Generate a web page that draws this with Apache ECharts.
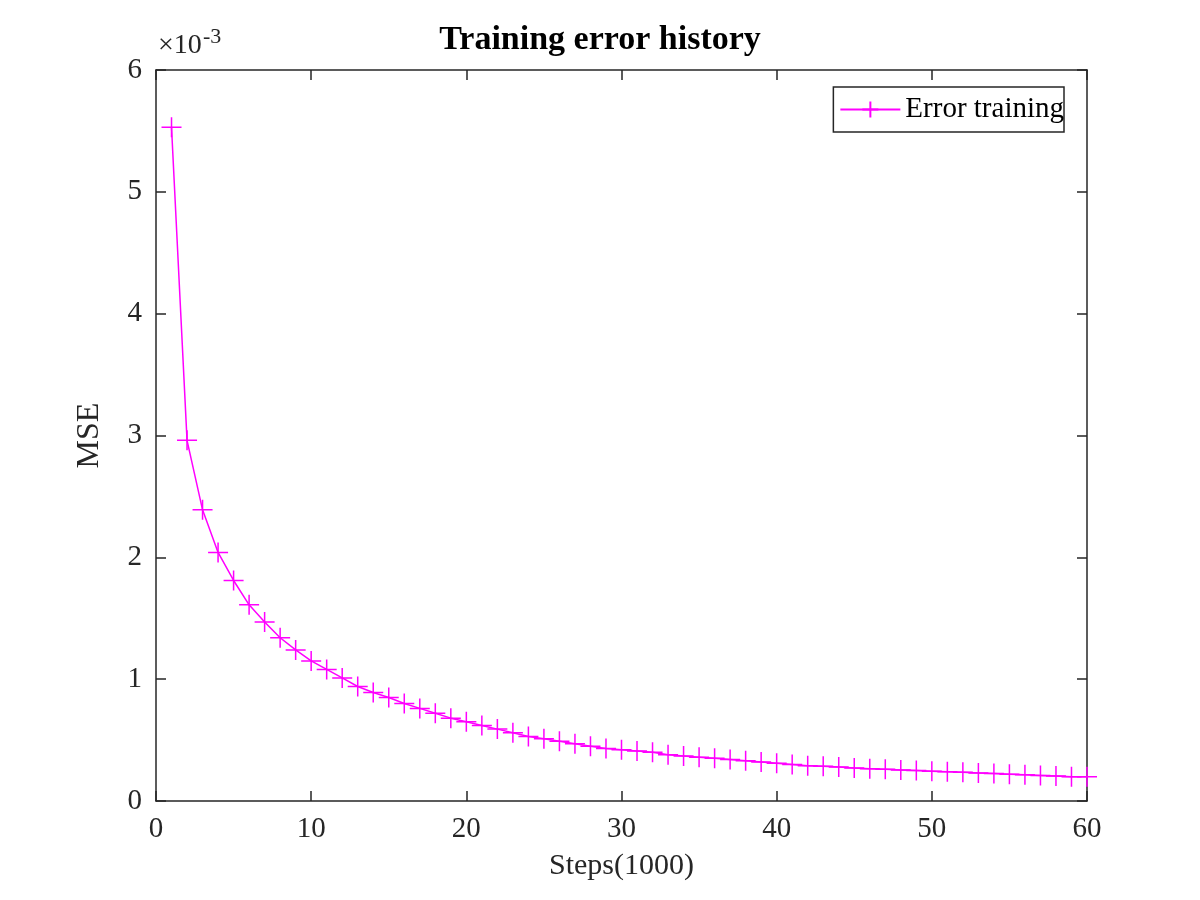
<!DOCTYPE html>
<html>
<head>
<meta charset="utf-8">
<script src="https://cdn.jsdelivr.net/npm/echarts@6/dist/echarts.min.js"></script>
<style>html,body{margin:0;background:#fff}#chart{width:1200px;height:900px}</style>
</head>
<body>
<div id="chart"></div>
<script>
// steps in thousands, MSE in units of 1e-3
var steps = [];
for (var i = 1; i <= 60; i++) steps.push(i);
var mse = [5.53, 2.96, 2.39, 2.04, 1.81, 1.61, 1.47, 1.34, 1.24, 1.15,
    1.08, 1.01, 0.94, 0.89, 0.85, 0.80, 0.76, 0.72, 0.68, 0.65,
    0.62, 0.59, 0.56, 0.53, 0.51, 0.49, 0.47, 0.45, 0.43, 0.42,
    0.41, 0.40, 0.38, 0.37, 0.36, 0.35, 0.34, 0.33, 0.32, 0.31,
    0.30, 0.29, 0.285, 0.28, 0.27, 0.265, 0.26, 0.255, 0.25, 0.245,
    0.24, 0.235, 0.23, 0.225, 0.22, 0.215, 0.21, 0.205, 0.20, 0.20];

var font = 'Liberation Serif';
var chart = echarts.init(document.getElementById('chart'));
var plus = 'path://M0,10L20,10M10,0L10,20';
var axisCommon = {
    axisLine: {onZero: false, lineStyle: {color: '#262626', width: 1.5}},
    axisTick: {inside: true, length: 10, lineStyle: {color: '#262626', width: 1.5}},
    splitLine: {show: false}
};
chart.setOption({
    animation: false,
    title: {
        text: 'Training error history', left: 'center', top: 18,
        textStyle: {fontFamily: font, fontSize: 34, fontWeight: 'bold', color: '#000'}
    },
    graphic: [{
        type: 'text', left: 158, top: 32,
        style: {text: '×10', font: '28px "Liberation Serif"', fill: '#262626'}
    }, {
        type: 'text', left: 203, top: 26,
        style: {text: '-3', font: '22px "Liberation Serif"', fill: '#262626'}
    }],
    legend: {
        right: 136, top: 87,
        itemWidth: 60, itemHeight: 20,
        padding: [8, 0, 8, 6],
        borderColor: '#262626', borderWidth: 1.5, borderRadius: 0,
        textStyle: {fontFamily: font, fontSize: 29, color: '#000'}
    },
    grid: {left: 156, right: 113, top: 70, bottom: 99},
    xAxis: [Object.assign({
        type: 'value', min: 0, max: 60, interval: 10,
        name: 'Steps(1000)', nameLocation: 'middle', nameGap: 50,
        nameTextStyle: {fontFamily: font, fontSize: 30, color: '#262626'},
        axisLabel: {fontFamily: font, fontSize: 29, color: '#262626', margin: 14}
    }, axisCommon), Object.assign({
        type: 'value', min: 0, max: 60, interval: 10, position: 'top',
        axisLabel: {show: false}
    }, axisCommon)],
    yAxis: [Object.assign({
        type: 'value', min: 0, max: 6, interval: 1,
        name: 'MSE', nameLocation: 'middle', nameGap: 50,
        nameTextStyle: {fontFamily: font, fontSize: 32, color: '#262626'},
        axisLabel: {fontFamily: font, fontSize: 29, color: '#262626', margin: 14}
    }, axisCommon), Object.assign({
        type: 'value', min: 0, max: 6, interval: 1, position: 'right',
        axisLabel: {show: false}
    }, axisCommon)],
    series: [{
        name: 'Error training', type: 'line',
        data: steps.map(function (s, i) { return [s, mse[i]]; }),
        symbol: plus, symbolSize: 20, showSymbol: true,
        lineStyle: {color: '#ff00ff', width: 1.5},
        itemStyle: {color: 'rgba(0,0,0,0)', borderColor: '#ff00ff', borderWidth: 1.5}
    }]
});
</script>
</body>
</html>
